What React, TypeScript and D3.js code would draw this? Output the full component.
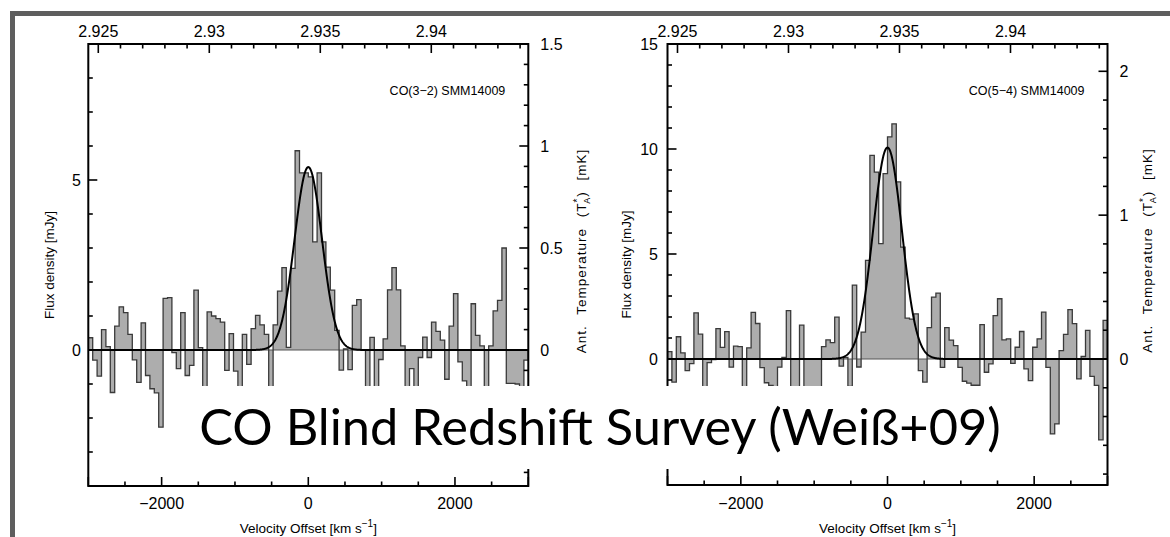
import React from "react";
import * as d3 from "d3";

// ---------------- data ----------------
const VEL_START = -3000; // km/s, left edge of first channel
const CHANNEL_WIDTH = 60; // km/s

// CO(3-2) SMM14009 flux density per channel [mJy]
const co32Flux = [
  0.36, -0.3, -0.77, 0.6, 0.1, -1.25, 0.7, 1.27, 1.1, 0.46,
  -0.29, -0.95, 0.8, -0.75, -1.14, -1.26, -2.27, 1.52, 1.54, -0.08,
  -0.55, 1.1, -0.75, -0.45, 1.76, 0.07, -1.6, 1.12, 1.0, 0.92,
  0.82, -0.6, 0.48, -0.62, -1.6, 0.46, -0.42, 0.63, 1.02, 0.74,
  0.46, -1.6, 0.74, 1.73, 2.42, 0.08, 2.4, 5.86, 5.21, 5.21,
  5.09, 3.18, 5.21, 3.18, 2.44, 1.76, 0.58, -0.59, 0.03, -0.58,
  1.31, 1.48, -0.01, -1.6, 0.37, -1.6, -0.28, 0.33, 1.77, 2.42,
  1.77, 0.12, -1.6, -0.55, -1.6, -0.22, 0.38, -0.22, 0.82, 0.55,
  0.29, -0.86, 0.7, 1.66, -0.35, -0.91, -1.6, 1.36, 0.43, 0.12,
  -1.6, 0.12, 1.15, 1.46, 3.0, -0.98, -0.98, -1.0, -1.6, -0.3,
];

// CO(5-4) SMM14009 flux density per channel [mJy]
const co54Flux = [
  0.35, -1.1, 1.06, 0.29, -0.55, -0.22, 2.2, 1.18, -2.0, -0.17,
  -0.03, 1.45, 0.55, 1.3, -0.39, 0.61, 0.59, -2.0, 0.53, 2.22,
  1.69, -0.41, -1.13, -1.26, -2.0, -0.39, 0.08, 2.3, -2.0, -2.0,
  1.61, -2.0, -2.0, -2.0, -2.0, 0.59, 0.91, 0.78, 1.99, -0.34,
  0.08, -1.31, 3.52, -0.38, 1.28, 4.7, 9.7, 8.9, 5.49, 8.83,
  10.58, 11.2, 8.43, 5.33, 1.95, 1.9, 2.15, -0.55, -1.1, 1.49,
  2.95, 3.14, -0.4, 1.49, 0.9, 0.64, -0.4, -1.06, -1.15, -1.25,
  -1.25, 1.64, -0.63, -0.23, 2.07, 2.87, 0.91, 0.96, -0.21, 0.56,
  1.31, -0.47, -1.03, 0.56, 0.96, 2.23, -0.4, -3.57, -3.09, 0.4,
  1.17, 2.35, 1.68, -0.95, 0.12, 1.36, -0.83, -1.26, -3.85, 1.84,
];

// Gaussian fits: [peak mJy, centre km/s, FWHM km/s]
const co32Fit = [5.38, 0, 440];
const co54Fit = [10.07, 0, 464];

// axis ticks
const velocityTicks = [-2000, 0, 2000];
const velocityTickLabels = ["\u22122000", "0", "2000"];
const redshiftTicks = [2.925, 2.93, 2.935, 2.94];
const redshiftTickLabels = ["2.925", "2.93", "2.935", "2.94"];
const redshiftDomain = [2.92455, 2.94437];

const co32FluxTicks = [0, 5];
const co32FluxTickLabels = ["0", "5"];
const co32TempTicks = [0, 0.5, 1, 1.5];
const co32TempTickLabels = ["0", "0.5", "1", "1.5"];

const co54FluxTicks = [0, 5, 10, 15];
const co54FluxTickLabels = ["0", "5", "10", "15"];
const co54TempTicks = [0, 1, 2];
const co54TempTickLabels = ["0", "1", "2"];

const TITLE = "CO Blind Redshift Survey (Wei\u00df+09)";

// ---------------- layout ----------------
const W = 1170;
const H = 537;
const FONT = "'Liberation Sans', Arial, Helvetica, sans-serif";
const TITLE_FONT = "Lato, 'Open Sans', sans-serif";

type PanelCfg = {
  x0: number;
  x1: number;
  yTop: number;
  yBot: number;
  fluxDomain: [number, number];
  fluxMinor: number;
  fluxTicks: number[];
  fluxLabels: string[];
  fluxPerMK: number;
  tempMinor: number;
  tempTicks: number[];
  tempLabels: string[];
  values: number[];
  fit: number[];
  label: string;
  fluxLabelX: number;
  fluxTitleX: number;
  tempTitleX: number;
};

const panels: PanelCfg[] = [
  {
    x0: 88.3,
    x1: 528.3,
    yTop: 44,
    yBot: 486,
    fluxDomain: [-4, 9],
    fluxMinor: 1,
    fluxTicks: co32FluxTicks,
    fluxLabels: co32FluxTickLabels,
    fluxPerMK: 6,
    tempMinor: 0.1,
    tempTicks: co32TempTicks,
    tempLabels: co32TempTickLabels,
    values: co32Flux,
    fit: co32Fit,
    label: "CO(3\u22122) SMM14009",
    fluxLabelX: 81,
    fluxTitleX: 49,
    tempTitleX: 581,
  },
  {
    x0: 667.5,
    x1: 1107.5,
    yTop: 44,
    yBot: 485,
    fluxDomain: [-6, 15],
    fluxMinor: 1,
    fluxTicks: co54FluxTicks,
    fluxLabels: co54FluxTickLabels,
    fluxPerMK: 6.85,
    tempMinor: 0.2,
    tempTicks: co54TempTicks,
    tempLabels: co54TempTickLabels,
    values: co54Flux,
    fit: co54Fit,
    label: "CO(5\u22124) SMM14009",
    fluxLabelX: 658,
    fluxTitleX: 626,
    tempTitleX: 1147,
  },
];

const MAJOR = 9;
const MINOR = 4.5;

function rangeTicks(lo: number, hi: number, step: number): number[] {
  const out: number[] = [];
  const n0 = Math.ceil(lo / step - 1e-6);
  const n1 = Math.floor(hi / step + 1e-6);
  for (let n = n0; n <= n1; n++) out.push(+(n * step).toFixed(6));
  return out;
}

function Panel({ cfg, idx }: { cfg: PanelCfg; idx: number }) {
  const { x0, x1, yTop, yBot } = cfg;
  const x = d3.scaleLinear().domain([-3000, 3000]).range([x0, x1]);
  const y = d3.scaleLinear().domain(cfg.fluxDomain).range([yBot, yTop]);
  const z = d3.scaleLinear().domain(redshiftDomain).range([x0, x1]);
  const t = d3
    .scaleLinear()
    .domain([cfg.fluxDomain[0] / cfg.fluxPerMK, cfg.fluxDomain[1] / cfg.fluxPerMK])
    .range([yBot, yTop]);

  const pts: [number, number][] = [];
  cfg.values.forEach((v, i) => {
    const vl = VEL_START + i * CHANNEL_WIDTH;
    pts.push([vl, v], [vl + CHANNEL_WIDTH, v]);
  });
  const vEnd = VEL_START + cfg.values.length * CHANNEL_WIDTH;
  const area = d3
    .area<[number, number]>()
    .x((d) => x(d[0]))
    .y0(y(0))
    .y1((d) => y(d[1]));
  const line = d3
    .line<[number, number]>()
    .x((d) => x(d[0]))
    .y((d) => y(d[1]));
  const outline: [number, number][] = [[VEL_START, 0], ...pts, [vEnd, 0]];

  const [amp, cen, fwhm] = cfg.fit;
  const sig = fwhm / 2.3548;
  const gauss: [number, number][] = d3
    .range(-3000, 3001, 5)
    .map((v) => [v, amp * Math.exp(-0.5 * ((v - cen) / sig) ** 2)] as [number, number]);

  const clipId = `clip${idx}`;
  const fluxMinorTicks = rangeTicks(cfg.fluxDomain[0], cfg.fluxDomain[1], cfg.fluxMinor);
  const tDom = t.domain();
  const tempMinorTicks = rangeTicks(tDom[0], tDom[1], cfg.tempMinor);
  const velMinor = rangeTicks(-3000, 3000, 500);
  const zMinor = rangeTicks(redshiftDomain[0], redshiftDomain[1], 0.001);
  const isMajor = (v: number, arr: number[]) => arr.some((a) => Math.abs(a - v) < 1e-6);
  const velMajorAll = [-3000, -2000, 0, 2000, 3000];
  const zMajor = redshiftTicks;
  const fluxMajorAll = rangeTicks(cfg.fluxDomain[0], cfg.fluxDomain[1], 5);
  const tempMajorAll = rangeTicks(tDom[0], tDom[1], cfg.tempTicks[1] - cfg.tempTicks[0]);

  const midY = (yTop + yBot) / 2;

  return (
    <g>
      <defs>
        <clipPath id={clipId}>
          <rect x={x0} y={yTop} width={x1 - x0} height={yBot - yTop} />
        </clipPath>
      </defs>
      <g clipPath={`url(#${clipId})`}>
        <path d={area(pts) || ""} fill="#adadad" stroke="none" />
        <line x1={x0} x2={x1} y1={y(0)} y2={y(0)} stroke="#555" strokeWidth={1} />
        <path d={line(outline) || ""} fill="none" stroke="#3a3a3a" strokeWidth={1.3} />
        <path d={line(gauss) || ""} fill="none" stroke="#000" strokeWidth={2} />
      </g>
      {/* frame */}
      <rect x={x0} y={yTop} width={x1 - x0} height={yBot - yTop} fill="none" stroke="#000" strokeWidth={2} />
      {/* left flux ticks */}
      {fluxMinorTicks.map((v) => {
        const L = isMajor(v, fluxMajorAll) ? MAJOR : MINOR;
        return <line key={`fl${v}`} x1={x0} x2={x0 + L} y1={y(v)} y2={y(v)} stroke="#000" strokeWidth={1.6} />;
      })}
      {/* right temperature ticks */}
      {tempMinorTicks.map((v) => {
        const L = isMajor(v, tempMajorAll) ? MAJOR : MINOR;
        return <line key={`tr${v}`} x1={x1} x2={x1 - L} y1={t(v)} y2={t(v)} stroke="#000" strokeWidth={1.6} />;
      })}
      {/* bottom velocity ticks */}
      {velMinor.map((v) => {
        const L = isMajor(v, velMajorAll) ? MAJOR : MINOR;
        return <line key={`vb${v}`} x1={x(v)} x2={x(v)} y1={yBot} y2={yBot - L} stroke="#000" strokeWidth={1.6} />;
      })}
      {/* top redshift ticks */}
      {zMinor.map((v) => {
        const L = isMajor(v, zMajor) ? MAJOR : MINOR;
        return <line key={`zt${v}`} x1={z(v)} x2={z(v)} y1={yTop} y2={yTop + L} stroke="#000" strokeWidth={1.6} />;
      })}
      {/* tick labels */}
      <g fontFamily={FONT} fontSize={16} fill="#000">
        {cfg.fluxTicks.map((v, i) => (
          <text key={`flt${v}`} x={cfg.fluxLabelX} y={y(v)} dy="0.36em" textAnchor="end">
            {cfg.fluxLabels[i]}
          </text>
        ))}
        {cfg.tempTicks.map((v, i) => (
          <text key={`tlt${v}`} x={x1 + 12} y={t(v)} dy="0.36em" textAnchor="start">
            {cfg.tempLabels[i]}
          </text>
        ))}
        {velocityTicks.map((v, i) => (
          <text key={`vlt${v}`} x={x(v)} y={509} textAnchor="middle">
            {velocityTickLabels[i]}
          </text>
        ))}
        {redshiftTicks.map((v, i) => (
          <text key={`zlt${v}`} x={z(v)} y={37} textAnchor="middle">
            {redshiftTickLabels[i]}
          </text>
        ))}
      </g>
      {/* axis titles */}
      <g fontFamily={FONT} fontSize={13.5} fill="#000">
        <text x={(x0 + x1) / 2} y={533} textAnchor="middle">
          Velocity Offset [km s
          <tspan dy={-6} fontSize={10}>
            {"\u22121"}
          </tspan>
          <tspan dy={6}>]</tspan>
        </text>
        <text transform={`translate(${cfg.fluxTitleX},${midY}) rotate(-90)`} textAnchor="middle" dy="0.35em">
          Flux density [mJy]
        </text>
        <text
          transform={`translate(${cfg.tempTitleX},${midY - 14}) rotate(-90)`}
          textAnchor="middle"
          dy="0.35em"
          wordSpacing={6}
          letterSpacing={1}
        >
          Ant. Temperature (T
          <tspan dy={-5} fontSize={10}>
            *
          </tspan>
          <tspan dy={9} dx={-6} fontSize={9}>
            A
          </tspan>
          <tspan dy={-4}>) [mK]</tspan>
        </text>
        <text x={x1 - 23} y={95} textAnchor="end" fontSize={12.5}>
          {cfg.label}
        </text>
      </g>
    </g>
  );
}

export default function App() {
  return (
    <svg
      width={W}
      height={H}
      viewBox={`0 0 ${W} ${H}`}
      style={{ position: "absolute", left: 0, top: 0, background: "#fff" }}
    >
      <rect x={0} y={0} width={W} height={H} fill="#fff" />
      {/* slide frame */}
      <rect x={10} y={11} width={W - 10} height={5} fill="#5e5e5e" />
      <rect x={10} y={11} width={5} height={H - 11} fill="#5e5e5e" />
      {panels.map((p, i) => (
        <Panel key={i} cfg={p} idx={i} />
      ))}
      {/* title box */}
      <rect x={190} y={386} width={825} height={83} fill="#fff" />
      <text x={600} y={445} textAnchor="middle" fontFamily={TITLE_FONT} fontSize={50.5} fill="#000">
        {TITLE}
      </text>
    </svg>
  );
}
